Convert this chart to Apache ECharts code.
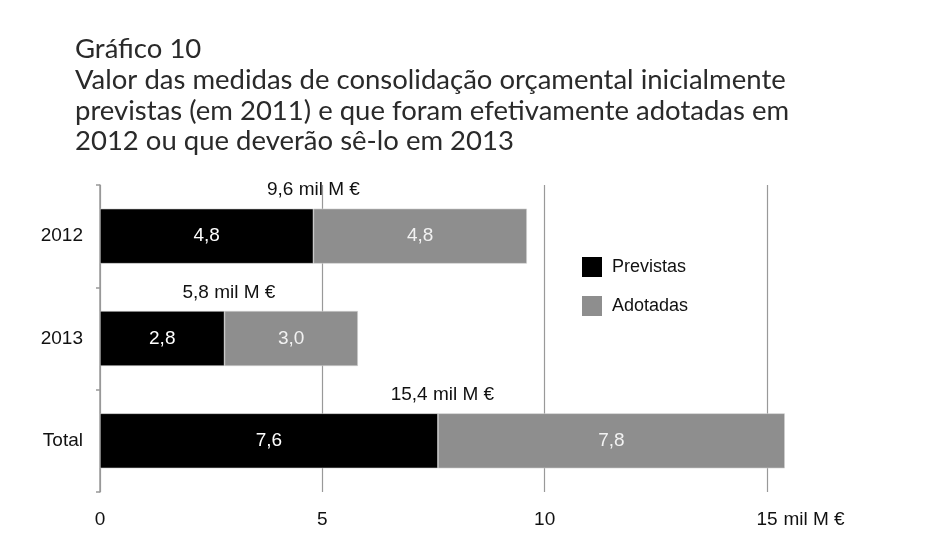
<!DOCTYPE html>
<html>
<head>
<meta charset="utf-8">
<script src="https://cdn.jsdelivr.net/npm/echarts@6/dist/echarts.min.js"></script>
<style>
  html, body { margin: 0; padding: 0; background: #fff; }
  #chart { width: 926px; height: 540px; }
</style>
</head>
<body>
<div id="chart"></div>
<script>
// dados do gráfico
const categories = ['2012', '2013', 'Total'];
const previstas = [4.8, 2.8, 7.6];
const adotadas = [4.8, 3.0, 7.8];
const totais = [9.6, 5.8, 15.4];
const xTicks = [0, 5, 10, 15];

const fmt = v => String(v.toFixed(1)).replace('.', ',');
const labelFont = '"Liberation Sans", Arial, sans-serif';

const chart = echarts.init(document.getElementById('chart'));

chart.setOption({
    animation: false,
    title: {
        text: 'Gráfico 10\nValor das medidas de consolidação orçamental inicialmente\nprevistas (em 2011) e que foram efetivamente adotadas em\n2012 ou que deverão sê-lo em 2013',
        left: 75,
        top: 34,
        padding: 0,
        textStyle: {
            fontFamily: 'Lato, "Open Sans", sans-serif',
            fontWeight: 'normal',
            fontSize: 27.5,
            lineHeight: 30.7,
            color: '#2a2a2a'
        }
    },
    legend: {
        orient: 'vertical',
        left: 582,
        top: 257,
        padding: 0,
        itemWidth: 20,
        itemHeight: 20,
        itemGap: 19,
        icon: 'rect',
        data: ['Previstas', 'Adotadas'],
        itemStyle: { borderWidth: 0 },
        textStyle: {
            fontFamily: labelFont,
            fontSize: 18,
            color: '#111',
            padding: [0, 0, 0, 5]
        }
    },
    grid: {
        left: 100,
        right: 926 - 767,
        top: 185,
        bottom: 540 - 492
    },
    xAxis: {
        type: 'value',
        min: 0,
        max: 15,
        interval: 5,
        axisLine: { show: false },
        axisTick: { show: false },
        splitLine: { show: true, lineStyle: { color: '#999', width: 1.2 } },
        axisLabel: {
            margin: 18,
            fontFamily: labelFont,
            fontSize: 19,
            color: '#111',
            formatter: v => xTicks.includes(v) ? String(v) : ''
        },
        name: 'mil M €',
        nameLocation: 'end',
        nameGap: 15,
        nameTextStyle: {
            fontFamily: labelFont,
            fontSize: 19,
            color: '#111',
            verticalAlign: 'top',
            padding: [18, 0, 0, 0]
        }
    },
    yAxis: {
        type: 'category',
        inverse: true,
        data: categories,
        axisLine: { show: true, lineStyle: { color: '#999', width: 1.5 } },
        axisTick: { show: true, length: 4, lineStyle: { color: '#999', width: 1.5 } },
        axisLabel: {
            margin: 17,
            fontFamily: labelFont,
            fontSize: 19,
            color: '#111'
        }
    },
    series: [
        {
            name: 'Total',
            type: 'bar',
            data: totais,
            barWidth: 55,
            silent: true,
            clip: false,
            z: 1,
            itemStyle: { color: 'rgba(0,0,0,0)' },
            label: {
                show: true,
                position: 'top',
                distance: 9,
                fontFamily: labelFont,
                fontSize: 19,
                color: '#111',
                formatter: p => fmt(p.value) + ' mil M €'
            }
        },
        {
            name: 'Previstas',
            type: 'bar',
            stack: 'v',
            data: previstas,
            barWidth: 55,
            barGap: '-100%',
            clip: false,
            z: 2,
            itemStyle: { color: '#000', borderColor: '#d0d0d0', borderWidth: 0.6 },
            label: {
                show: true,
                position: 'inside',
                fontFamily: labelFont,
                fontSize: 19,
                color: '#fff',
                formatter: p => fmt(p.value)
            }
        },
        {
            name: 'Adotadas',
            type: 'bar',
            stack: 'v',
            data: adotadas,
            barWidth: 55,
            clip: false,
            z: 2,
            itemStyle: { color: '#8e8e8e', borderColor: '#d0d0d0', borderWidth: 0.6 },
            label: {
                show: true,
                position: 'inside',
                fontFamily: labelFont,
                fontSize: 19,
                color: '#f2f2f2',
                formatter: p => fmt(p.value)
            }
        }
    ]
});
</script>
</body>
</html>
